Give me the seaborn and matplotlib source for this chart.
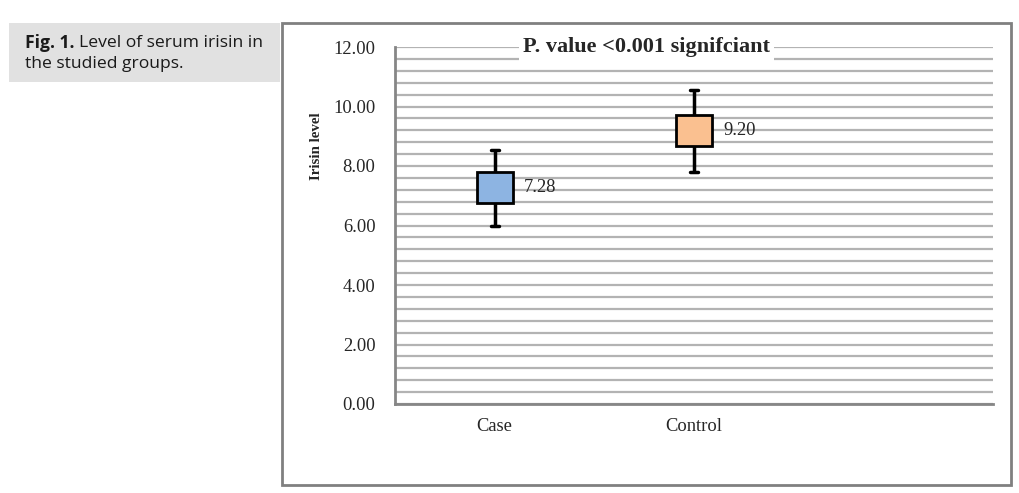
import matplotlib
matplotlib.use("Agg")
import matplotlib.pyplot as plt
from matplotlib.patches import Rectangle
from matplotlib.ticker import MultipleLocator, FormatStrFormatter
import pandas as pd
import seaborn as sns

# values
groups = ["Case", "Control"]
whisker_low = [5.97, 7.81]
box_low = [6.75, 8.66]
centre = [7.28, 9.20]
box_high = [7.81, 9.70]
whisker_high = [8.55, 10.54]
box_colors = ["#8db4e2", "#fac090"]

# five summary points per group -> boxplot quartiles / whiskers
rows = []
for i, g in enumerate(groups):
    for v in [whisker_low[i], box_low[i], centre[i], box_high[i], whisker_high[i]]:
        rows.append((g, v))
df = pd.DataFrame(rows, columns=["group", "value"])

sns.set_style("white")
plt.rcParams["font.family"] = ["Liberation Serif", "DejaVu Serif"]

fig = plt.figure(figsize=(10.2, 4.93), dpi=100)

# caption box on the left
fig.patches.append(Rectangle((9 / 1020, 1 - 82 / 493), 271 / 1020, 59 / 493,
                             transform=fig.transFigure, facecolor="#e1e1e1",
                             edgecolor="none", zorder=0))
# chart frame
fig.patches.append(Rectangle((282 / 1020, 1 - 485 / 493), 729 / 1020, 462 / 493,
                             transform=fig.transFigure, facecolor="none",
                             edgecolor="#808080", linewidth=2, zorder=0))

cap_font = ["Open Sans", "DejaVu Sans"]
t1 = fig.text(25 / 1020, 1 - 43 / 493, "Fig. 1.", fontweight="bold",
              family=cap_font, fontsize=12.6, va="center", color="#1a1a1a")
fig.canvas.draw()
bb = t1.get_window_extent()
fig.text((bb.x1 + 5) / 1020, 1 - 43 / 493, "Level of serum irisin in",
         family=cap_font, fontsize=12.6, va="center", color="#1a1a1a")
fig.text(25 / 1020, 1 - 64 / 493, "the studied groups.",
         family=cap_font, fontsize=12.6, va="center", color="#1a1a1a")

ax = fig.add_axes([395 / 1020, 1 - 404 / 493, 598 / 1020, 357 / 493])

sns.boxplot(data=df, x="group", y="value", hue="group", palette=box_colors,
            width=0.18, whis=(0, 100), linewidth=2, linecolor="black",
            saturation=1, legend=False, capwidths=0.04,
            medianprops={"visible": False},
            whiskerprops={"linewidth": 2.5}, capprops={"linewidth": 2.5},
            ax=ax)

ax.set_xlim(-0.5, 2.5)
ax.set_ylim(0, 12)
ax.yaxis.set_major_locator(MultipleLocator(2))
ax.yaxis.set_minor_locator(MultipleLocator(0.4))
ax.yaxis.set_major_formatter(FormatStrFormatter("%.2f"))
ax.grid(axis="y", which="both", color="#b3b3b3", linewidth=1.6)
ax.set_axisbelow(True)

ax.set_xticks(range(len(groups)), groups)
ax.set_xticks([-0.5, 0.5, 1.5, 2.5], minor=True)
ax.tick_params(axis="x", which="major", length=0, pad=10, labelsize=13.3)
ax.tick_params(axis="x", which="minor", length=6, width=1.5,
               color="#868686", direction="out")
ax.tick_params(axis="y", which="major", length=6, width=1.5,
               color="#868686", direction="out", labelsize=13.3, pad=8)
ax.tick_params(axis="y", which="minor", length=0)
ax.set_xlabel("")
ax.set_ylabel("Irisin level", fontweight="bold", fontsize=10.8)
ax.yaxis.set_label_coords(-0.120, 0.723)

sns.despine(ax=ax)
for side in ["left", "bottom"]:
    ax.spines[side].set_color("#868686")
    ax.spines[side].set_linewidth(2)

# value labels beside the boxes
for i, v in enumerate(centre):
    ax.text(i + 0.145, v, f"{v:.2f}", ha="left", va="center",
            fontsize=13.3, color="#262626")

ax.text(0.421, 1.0, "P. value <0.001 signifciant", transform=ax.transAxes,
        ha="center", va="center", fontsize=16, fontweight="bold",
        bbox=dict(facecolor="white", edgecolor="none", pad=3), zorder=5)

fig.savefig("out.png", dpi=100)
